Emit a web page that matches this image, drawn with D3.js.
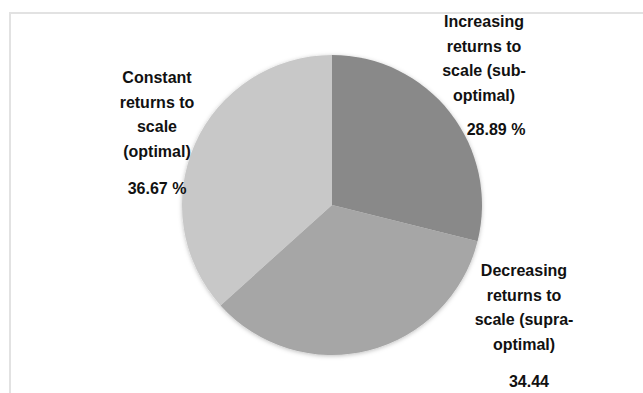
<!DOCTYPE html>
<html>
<head>
<meta charset="utf-8">
<script src="https://cdn.jsdelivr.net/npm/d3@7"></script>
<style>
  html, body { margin: 0; padding: 0; background: #fff; }
  svg { display: block; }
</style>
</head>
<body>
<div id="chart"></div>
<script>
// Data
const categories = [
    "Increasing returns to scale (sub-optimal)",
    "Decreasing returns to scale (supra-optimal)",
    "Constant returns to scale (optimal)"
];
const shares = [28.89, 34.44, 36.67];
const valueLabels = ["28.89 %", "34.44", "36.67 %"];
const labelLines = [
    ["Increasing", "returns to", "scale (sub-", "optimal)"],
    ["Decreasing", "returns to", "scale (supra-", "optimal)"],
    ["Constant", "returns to", "scale", "(optimal)"]
];
const sliceColors = ["#898989", "#a6a6a6", "#c8c8c8"];

(function() {
    const W = 643, H = 393;
    const cx = 332, cy = 205, radius = 150;

    const svg = d3.select("#chart").append("svg")
        .attr("width", W)
        .attr("height", H);

    // chart area frame (only the top and left edges show)
    svg.append("path")
        .attr("d", `M10,${H} V13 H${W}`)
        .attr("fill", "none")
        .attr("stroke", "#e2e2e2")
        .attr("stroke-width", 2);

    // soft shadow under the pie
    const defs = svg.append("defs");
    defs.append("filter")
        .attr("id", "shadow")
        .attr("x", "-10%").attr("y", "-10%")
        .attr("width", "120%").attr("height", "120%")
        .append("feDropShadow")
        .attr("dx", 0).attr("dy", 1)
        .attr("stdDeviation", 2)
        .attr("flood-color", "#000")
        .attr("flood-opacity", 0.25);

    const pie = d3.pie()
        .sort(null)
        .value(d => d);

    const arc = d3.arc()
        .innerRadius(0)
        .outerRadius(radius);

    const g = svg.append("g")
        .attr("transform", `translate(${cx},${cy})`);

    g.append("g")
        .attr("filter", "url(#shadow)")
        .selectAll("path")
        .data(pie(shares))
        .join("path")
        .attr("d", arc)
        .attr("fill", (d, i) => sliceColors[i]);

    // label placement (block centre x, first baseline y, value offset)
    const labelPos = [
        { x: 484, y: 27, gap: 34, vx: 12 },
        { x: 524, y: 276, gap: 37, vx: 5 },
        { x: 157, y: 83, gap: 37, vx: 0 }
    ];
    const lineH = 24.5;

    const labels = svg.append("g")
        .attr("font-family", "'Liberation Sans', Arial, sans-serif")
        .attr("font-size", "16px")
        .attr("font-weight", "bold")
        .attr("fill", "#111")
        .attr("text-anchor", "middle");

    categories.forEach((c, i) => {
        const p = labelPos[i];
        const t = labels.append("text")
            .attr("x", p.x)
            .attr("y", p.y);
        labelLines[i].forEach((line, j) => {
            t.append("tspan")
                .attr("x", p.x)
                .attr("dy", j === 0 ? 0 : lineH)
                .text(line);
        });
        labels.append("text")
            .attr("x", p.x + p.vx)
            .attr("y", p.y + (labelLines[i].length - 1) * lineH + p.gap)
            .text(valueLabels[i]);
    });
})();
</script>
</body>
</html>
